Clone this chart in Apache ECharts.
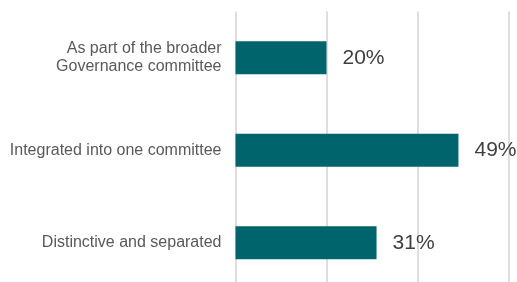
<!DOCTYPE html>
<html lang="en">
<head>
    <meta charset="UTF-8">
    <title>Committee structure</title>
    <script src="https://cdn.jsdelivr.net/npm/echarts@6/dist/echarts.min.js"></script>
    <style>
        html, body { margin: 0; padding: 0; background: #fff; overflow: hidden; }
        /* chart runs a bit past the bottom edge, like the original's cropped gridlines */
        #chart { width: 517px; height: 289px; }
    </style>
</head>
<body>
<div id="chart"></div>
<script>
    var categories = ['As part of the broader\nGovernance committee', 'Integrated into one committee', 'Distinctive and separated'];
    var values = [20, 49, 31];
    var axisTicks = [0, 20, 40, 60];

    var chart = echarts.init(document.getElementById('chart'));
    var option = {
        animation: false,
        grid: {
            left: 235.5,
            right: 8.5,
            top: 11.5,
            bottom: 0,
            containLabel: false
        },
        xAxis: {
            type: 'value',
            min: axisTicks[0],
            max: axisTicks[axisTicks.length - 1],
            interval: 20,
            axisLabel: { show: false },
            axisLine: { show: false },
            axisTick: { show: false },
            splitLine: { lineStyle: { color: '#dedede', width: 2 } }
        },
        yAxis: {
            type: 'category',
            inverse: true,
            data: categories,
            axisLine: { show: false },
            axisTick: { show: false },
            axisLabel: {
                margin: 14,
                color: '#595959',
                fontFamily: 'Liberation Sans, Arial, sans-serif',
                fontSize: 16,
                lineHeight: 18,
                align: 'right'
            }
        },
        series: [{
            type: 'bar',
            data: values,
            barWidth: 33,
            itemStyle: { color: '#00646c' },
            label: {
                show: true,
                position: 'right',
                distance: 16,
                formatter: '{c}%',
                color: '#404040',
                fontFamily: 'Liberation Sans, Arial, sans-serif',
                fontSize: 21
            }
        }]
    };
    chart.setOption(option);
</script>
</body>
</html>
